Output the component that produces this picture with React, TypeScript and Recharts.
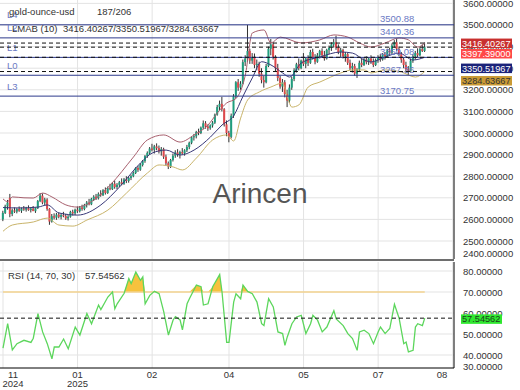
import React from 'react';
import { ComposedChart, Bar, Line, Area, XAxis, YAxis, CartesianGrid, ReferenceLine } from 'recharts';

const FONT = 'Liberation Sans, Arial, sans-serif';

// daily candles [open, high, low, close]
const novDec = [
  [2600, 2640, 2592, 2630], [2630, 2668, 2625, 2660], [2660, 2690, 2645, 2678], [2700, 2718, 2610, 2625],
  [2625, 2650, 2615, 2642], [2642, 2655, 2630, 2636], [2636, 2652, 2628, 2648], [2648, 2660, 2635, 2640],
  [2640, 2655, 2630, 2650], [2650, 2662, 2640, 2645], [2645, 2658, 2636, 2652], [2652, 2665, 2640, 2643],
  [2643, 2656, 2632, 2650], [2650, 2662, 2640, 2638], [2638, 2655, 2630, 2652], [2652, 2690, 2648, 2685],
  [2685, 2722, 2680, 2710], [2710, 2720, 2670, 2678], [2678, 2700, 2665, 2692], [2692, 2698, 2640, 2648],
  [2648, 2652, 2575, 2590], [2590, 2625, 2585, 2615], [2615, 2628, 2600, 2608], [2608, 2630, 2598, 2622],
  [2622, 2632, 2605, 2612], [2612, 2628, 2600, 2620], [2620, 2635, 2610, 2615], [2615, 2625, 2598, 2605],
  [2605, 2620, 2595, 2612], [2612, 2640, 2608, 2635],
];
const janFeb = [
  [2635, 2645, 2618, 2628], [2628, 2650, 2620, 2645], [2645, 2660, 2630, 2638], [2638, 2662, 2632, 2655],
  [2655, 2668, 2640, 2648], [2648, 2672, 2642, 2666], [2666, 2685, 2655, 2678], [2678, 2695, 2665, 2670],
  [2670, 2700, 2666, 2695], [2695, 2712, 2685, 2705], [2705, 2718, 2690, 2698], [2698, 2725, 2692, 2718],
  [2718, 2735, 2705, 2712], [2712, 2740, 2708, 2735], [2735, 2748, 2715, 2722], [2722, 2752, 2718, 2745],
  [2745, 2765, 2735, 2740], [2740, 2772, 2736, 2765], [2765, 2780, 2742, 2750], [2750, 2768, 2740, 2760],
  [2760, 2778, 2750, 2772], [2772, 2790, 2758, 2765], [2765, 2792, 2760, 2785], [2785, 2800, 2768, 2778],
  [2778, 2798, 2770, 2792], [2792, 2808, 2782, 2800], [2800, 2822, 2795, 2815], [2815, 2842, 2810, 2838],
  [2838, 2848, 2820, 2830], [2830, 2860, 2825, 2852],
];
const febMar = [
  [2852, 2875, 2845, 2870], [2870, 2898, 2862, 2893], [2893, 2915, 2885, 2908], [2908, 2935, 2900, 2928],
  [2928, 2950, 2915, 2922], [2922, 2945, 2905, 2938], [2938, 2952, 2920, 2930], [2930, 2942, 2905, 2915],
  [2915, 2935, 2895, 2925], [2925, 2932, 2880, 2890], [2890, 2900, 2850, 2860], [2860, 2868, 2833, 2845],
  [2845, 2880, 2838, 2875], [2875, 2905, 2868, 2895], [2895, 2920, 2885, 2910], [2910, 2925, 2890, 2900],
  [2900, 2918, 2882, 2912], [2912, 2930, 2900, 2905], [2905, 2925, 2895, 2920], [2920, 2945, 2912, 2935],
  [2935, 2960, 2925, 2955], [2955, 2985, 2948, 2980], [2980, 2995, 2965, 2985], [2985, 3010, 2975, 3005],
  [3005, 3020, 2990, 3000], [3000, 3030, 2995, 3025], [3025, 3058, 3018, 3045], [3045, 3055, 3020, 3030],
  [3030, 3040, 3010, 3022], [3022, 3040, 3015, 3035],
];
const aprMay = [
  [3035, 3055, 3025, 3048], [3048, 3090, 3042, 3085], [3085, 3130, 3080, 3120], [3120, 3150, 3105, 3135],
  [3135, 3167, 3100, 3110], [3110, 3115, 3030, 3040], [3040, 3058, 2985, 3000], [3000, 3010, 2957, 2982],
  [2982, 3090, 2975, 3080], [3080, 3180, 3070, 3170], [3170, 3240, 3160, 3235], [3235, 3250, 3195, 3210],
  [3210, 3240, 3200, 3228], [3228, 3340, 3225, 3328], [3328, 3360, 3310, 3345], [3345, 3500, 3330, 3380],
  [3380, 3390, 3320, 3335], [3335, 3370, 3320, 3350], [3350, 3368, 3300, 3315], [3315, 3340, 3290, 3320],
  [3320, 3330, 3260, 3275], [3275, 3300, 3230, 3245], [3245, 3265, 3210, 3235], [3235, 3320, 3230, 3310],
  [3310, 3400, 3305, 3390], [3390, 3435, 3360, 3410], [3410, 3420, 3340, 3350], [3350, 3360, 3285, 3300],
  [3300, 3320, 3240, 3255], [3255, 3265, 3205, 3215],
];
const mayJun = [
  [3215, 3250, 3190, 3235], [3235, 3245, 3165, 3180], [3180, 3200, 3120, 3150], [3150, 3225, 3140, 3210],
  [3210, 3260, 3200, 3250], [3250, 3300, 3240, 3290], [3290, 3325, 3280, 3318], [3318, 3345, 3290, 3300],
  [3300, 3340, 3295, 3335], [3335, 3370, 3310, 3320], [3320, 3350, 3300, 3345], [3345, 3360, 3310, 3325],
  [3325, 3385, 3320, 3375], [3375, 3390, 3340, 3350], [3350, 3365, 3318, 3330], [3330, 3370, 3325, 3360],
  [3360, 3385, 3345, 3380], [3380, 3392, 3350, 3360], [3360, 3380, 3335, 3345], [3345, 3390, 3340, 3385],
  [3385, 3405, 3365, 3395], [3395, 3420, 3380, 3410], [3410, 3435, 3395, 3420], [3420, 3450, 3385, 3395],
  [3395, 3410, 3365, 3375], [3375, 3395, 3350, 3385], [3385, 3390, 3345, 3355], [3355, 3375, 3330, 3365],
  [3365, 3370, 3315, 3325], [3325, 3340, 3290, 3300],
];
const junJul = [
  [3300, 3325, 3280, 3310], [3310, 3320, 3265, 3275], [3275, 3300, 3255, 3295], [3295, 3335, 3285, 3325],
  [3325, 3345, 3305, 3315], [3315, 3350, 3310, 3340], [3340, 3355, 3318, 3328], [3328, 3350, 3315, 3345],
  [3345, 3360, 3320, 3330], [3330, 3345, 3305, 3315], [3315, 3345, 3310, 3338], [3338, 3360, 3325, 3350],
  [3350, 3365, 3330, 3340], [3340, 3370, 3335, 3362], [3362, 3375, 3340, 3355], [3355, 3390, 3350, 3382],
  [3382, 3395, 3360, 3372], [3372, 3415, 3365, 3405], [3405, 3430, 3395, 3420], [3420, 3435, 3380, 3390],
  [3390, 3400, 3355, 3365], [3365, 3375, 3325, 3340], [3340, 3350, 3300, 3315], [3315, 3330, 3280, 3295],
  [3295, 3310, 3268, 3285], [3285, 3345, 3280, 3335], [3335, 3365, 3325, 3355], [3355, 3380, 3340, 3370],
  [3370, 3392, 3350, 3360], [3360, 3400, 3355, 3388], [3388, 3410, 3375, 3380], [3380, 3420, 3375, 3397.39],
];

// band points [bar index, value]
const upperBand = [
  [0, 2695], [2, 2682], [4, 2704], [9, 2700], [13, 2699], [17, 2722], [21, 2704], [27, 2667], [32, 2657],
  [39, 2690], [46, 2759], [56, 2889], [62, 2968], [69, 2991], [76, 2958], [82, 2991], [88, 3037], [92, 3093],
  [96, 3139], [100, 3160], [104, 3268], [107, 3463], [112, 3477], [115, 3417], [119, 3444], [128, 3417],
  [136, 3431], [142, 3454], [148, 3444], [153, 3417], [158, 3398], [164, 3417], [170, 3440], [174, 3431],
  [178, 3398], [181, 3416.4],
];
const middleBand = [
  [0, 2655], [7, 2653], [15, 2657], [19, 2667], [24, 2630], [32, 2620], [42, 2667], [50, 2750], [59, 2861],
  [64, 2907], [70, 2921], [76, 2898], [82, 2921], [89, 2981], [94, 3037], [99, 3080], [103, 3170], [107, 3255],
  [111, 3330], [115, 3315], [120, 3278], [123, 3259], [128, 3324], [136, 3352], [145, 3375], [150, 3370],
  [155, 3338], [158, 3329], [164, 3352], [170, 3370], [176, 3338], [181, 3350.52],
];
const lowerBand = [
  [0, 2545], [4, 2574], [13, 2588], [19, 2606], [24, 2574], [30, 2569], [36, 2597], [45, 2643], [53, 2722],
  [62, 2815], [67, 2852], [73, 2843], [77, 2829], [83, 2884], [90, 2968], [96, 2991], [99, 2963], [102, 3069],
  [105, 3153], [110, 3190], [115, 3213], [120, 3231], [122, 3167], [124, 3120], [127, 3130], [131, 3213],
  [136, 3236], [145, 3278], [150, 3292], [155, 3292], [158, 3278], [164, 3292], [171, 3282], [177, 3259],
  [181, 3284.64],
];

const rsiValues = [
  [0, 43.3], [2, 54.9], [4, 42.4], [6, 45.4], [9, 47], [12, 46], [13, 48], [15, 59.7], [17, 51], [19, 45.4],
  [21, 38.2], [22, 43.8], [24, 43.8], [26, 47.6], [28, 43], [31, 53.3], [33, 49.5], [36, 59.7], [38, 54.9],
  [41, 63.8], [42, 61.6], [45, 67.6], [47, 70], [48, 62], [49, 64.4], [52, 69.4], [54, 76.4], [55, 74],
  [57, 79.5], [59, 75.6], [60, 77.2], [61, 64.4], [63, 68.4], [65, 70.3], [67, 69.2], [69, 60.5], [71, 49.5],
  [73, 56.7], [74, 58.3], [76, 56.7], [77, 52], [79, 64.4], [80, 66.8], [83, 73.3], [85, 72.5], [86, 63.8],
  [88, 64.4], [90, 72.5], [93, 78.3], [94, 70], [96, 46], [97, 46], [99, 65.2], [100, 69.2], [102, 66.8],
  [103, 73.3], [105, 70.3], [107, 69.2], [109, 65.2], [111, 54.9], [112, 54], [114, 66.8], [116, 62.9],
  [118, 51], [120, 50.2], [121, 44.6], [122, 48.6], [124, 54.9], [126, 58.1], [128, 58.9], [130, 50.2],
  [132, 54.9], [133, 58.9], [135, 56.6], [137, 51], [139, 53.3], [142, 61.1], [143, 57.2], [146, 54],
  [148, 50.2], [150, 47.8], [152, 42.2], [153, 51], [155, 51.8], [157, 50.2], [159, 45.4], [161, 51],
  [162, 53.3], [164, 50.2], [166, 52.6], [168, 64.1], [170, 57.5], [172, 45.4], [173, 46.2], [174, 41.5],
  [176, 42.2], [177, 53.3], [178, 54.9], [180, 54], [181, 57.54562],
];

const levelNames = ['L4', 'L2', 'L1', 'L0', 'L3'];
const levelValues = [3500.88, 3440.36, 3350.08, 3267.36, 3170.75];

const bandLast = [3416.40267, 3350.51967, 3284.63667];
const lastClose = 3397.39;
const rsiLast = 57.54562;

const xTicks = [0, 32, 64, 97, 129, 161, 193];
const monthLabels = ['11', '01', '02', '04', '05', '07', '08'];
const yearLabels = ['2024', '2025', '', '', '', '', ''];
const priceTicks = [2400, 2500, 2600, 2700, 2800, 2900, 3000, 3100, 3200, 3300, 3400, 3500, 3600];
const rsiTicks = [40, 50, 60, 70, 80];
const rsiFloorTick = 30;

const candles = [...novDec, ...janFeb, ...febMar, ...aprMay, ...mayJun, ...junJul].map(([o, h, l, c], i) => ({ i, o, h, l, c }));
const toPts = (arr: number[][]) => arr.map(([i, v]) => ({ i, v }));
const rsiData = toPts(rsiValues);
const lastIdx = candles.length - 1;

const X_DOMAIN: [number, number] = [-1.29, 193.56];
const PRICE_DOMAIN: [number, number] = [2416.67, 3615.74];
const RSI_DOMAIN: [number, number] = [33.81, 84.29];

const GREEN = '#1f9e7e';
const RED = '#e0484c';
const LEVEL = '#2d3a8c';
const LEVEL_TXT = '#6c7ac4';

function Candle(props: any) {
  const { x, y, width, height } = props;
  const d = props.payload || props;
  const top = Math.min(y, y + height);
  const h = Math.abs(height);
  const k = h / Math.max(d.h - d.l, 1e-6);
  const cx = x + width / 2;
  const yo = top + (d.h - d.o) * k;
  const yc = top + (d.h - d.c) * k;
  const col = d.c >= d.o ? GREEN : RED;
  return (
    <g>
      <line x1={cx} x2={cx} y1={top} y2={top + h} stroke="#333" strokeWidth={1} />
      <rect x={cx - 1} y={Math.min(yo, yc)} width={2} height={Math.max(Math.abs(yc - yo), 1)} fill={col} />
    </g>
  );
}

function LevelLabel(props: any) {
  const vb = props.viewBox || {};
  return (
    <g fontSize={9.5} fontFamily={FONT} fill={LEVEL_TXT}>
      <text x={vb.x + 7} y={vb.y - 6.5}>{props.name}</text>
      <text x={vb.x + 380} y={vb.y - 2.5}>{props.text}</text>
    </g>
  );
}

function PriceTag(props: any) {
  const vb = props.viewBox || {};
  const left = vb.x + vb.width + 7;
  const top = vb.y + props.shift - 4.5;
  return (
    <g>
      <rect x={left} y={top} width={props.w} height={9.5} fill={props.bg} />
      <text x={left + 1} y={top + 8} fontSize={9.2} fontFamily={FONT} fill={props.fg}>{props.text}</text>
    </g>
  );
}

function PriceTick(props: any) {
  const { x, y, payload } = props;
  return (
    <text x={x} y={Math.min(y, 253)} dy={3.5} fontSize={9.5} fontFamily={FONT} fill="#333" textAnchor="start">
      {Number(payload.value).toFixed(5)}
    </text>
  );
}

function RsiTick(props: any) {
  const { x, y, payload } = props;
  return (
    <text x={x} y={y} dy={3.5} fontSize={9.5} fontFamily={FONT} fill="#333" textAnchor="start">
      {Number(payload.value).toFixed(5)}
    </text>
  );
}

function MonthTick(props: any) {
  const { x, y, payload } = props;
  const k = xTicks.indexOf(payload.value);
  const cx = Math.min(Math.max(x, 13), 442);
  return (
    <g fontSize={9.5} fontFamily={FONT} fill="#333">
      <text x={cx} y={y + 10} textAnchor="middle">{monthLabels[k]}</text>
      {yearLabels[k] ? <text x={cx} y={y + 19} textAnchor="middle">{yearLabels[k]}</text> : null}
    </g>
  );
}

const tags = [
  { v: bandLast[0], text: bandLast[0].toFixed(5), bg: '#c8302f', fg: '#fff', shift: 0 },
  { v: lastClose, text: lastClose.toFixed(5), bg: '#ff4848', fg: '#fff', shift: 6.3 },
  { v: bandLast[1], text: bandLast[1].toFixed(5), bg: '#1b237a', fg: '#fff', shift: 10.8 },
  { v: bandLast[2], text: bandLast[2].toFixed(5), bg: '#c99a35', fg: '#333', shift: 9 },
];

const abs = (left: number, top: number): React.CSSProperties => ({ position: 'absolute', left, top });

export default function App() {
  return (
    <div style={{ position: 'absolute', left: 0, top: 0, width: 520, height: 390, background: '#fff', overflow: 'hidden' }}>
      {/* price pane */}
      <div style={abs(0, 0)}>
        <ComposedChart width={520} height={259} data={candles} margin={{ top: 0, right: 0, bottom: 0, left: 0 }}>
          <CartesianGrid stroke="#e3e3e3" horizontalValues={priceTicks.slice(1)} verticalValues={xTicks} />
          <XAxis type="number" dataKey="i" domain={X_DOMAIN} allowDataOverflow ticks={xTicks} hide />
          <YAxis
            orientation="right"
            width={66}
            domain={PRICE_DOMAIN}
            allowDataOverflow
            ticks={priceTicks}
            interval={0}
            tick={<PriceTick />}
            tickLine={false}
            tickSize={0}
            tickMargin={9}
            axisLine={{ stroke: '#000' }}
          />
          <Bar dataKey={(d: any) => [d.l, d.h]} shape={<Candle />} barSize={2} isAnimationActive={false} />
          <Line data={toPts(upperBand)} dataKey="v" type="monotone" stroke="#a8606e" strokeWidth={1} dot={false} activeDot={false} isAnimationActive={false} />
          <Line data={toPts(middleBand)} dataKey="v" type="monotone" stroke="#383878" strokeWidth={1} dot={false} activeDot={false} isAnimationActive={false} />
          <Line data={toPts(lowerBand)} dataKey="v" type="monotone" stroke="#c9b46a" strokeWidth={1} dot={false} activeDot={false} isAnimationActive={false} />
        </ComposedChart>
      </div>
      {/* levels and price tags drawn above the axis labels */}
      <div style={abs(0, 0)}>
        <ComposedChart width={520} height={259} data={candles} margin={{ top: 0, right: 66, bottom: 0, left: 0 }}>
          <XAxis type="number" dataKey="i" domain={X_DOMAIN} allowDataOverflow hide />
          <YAxis domain={PRICE_DOMAIN} allowDataOverflow hide />
          {levelValues.map((v, k) => (
            <ReferenceLine key={'lv' + k} y={v} stroke={LEVEL} strokeWidth={1} label={<LevelLabel name={levelNames[k]} text={v.toFixed(2)} />} />
          ))}
          {tags.map((t, k) => (
            <ReferenceLine
              key={'tg' + k}
              y={t.v}
              stroke="#111"
              strokeDasharray="4 3"
              label={<PriceTag text={t.text} bg={t.bg} fg={t.fg} shift={t.shift} w={51} />}
            />
          ))}
        </ComposedChart>
      </div>
      <div style={{ position: 'absolute', left: 0, top: 259, width: 454, height: 2, background: '#6e6e6e' }} />
      {/* RSI pane */}
      <div style={abs(0, 259)}>
        <ComposedChart width={520} height={131} data={rsiData} margin={{ top: 3, right: 0, bottom: 0, left: 0 }}>
          <CartesianGrid stroke="#e3e3e3" horizontalValues={rsiTicks} verticalValues={xTicks} />
          <XAxis
            type="number"
            dataKey="i"
            domain={X_DOMAIN}
            allowDataOverflow
            ticks={xTicks}
            interval={0}
            height={22}
            tick={<MonthTick />}
            tickLine={false}
            tickSize={0}
            tickMargin={0}
            axisLine={{ stroke: '#000' }}
          />
          <YAxis
            orientation="right"
            width={66}
            domain={RSI_DOMAIN}
            allowDataOverflow
            ticks={rsiTicks}
            interval={0}
            tick={<RsiTick />}
            tickLine={false}
            tickSize={0}
            tickMargin={9}
            axisLine={{ stroke: '#000' }}
          />
          <ReferenceLine segment={[{ x: 0, y: 70 }, { x: lastIdx, y: 70 }]} stroke="#f3d38f" strokeWidth={1.5} />
          <Area dataKey={(d: any) => Math.max(d.v, 70)} baseValue={70} type="linear" stroke="none" fill="#f6c23e" fillOpacity={1} activeDot={false} isAnimationActive={false} />
          <Line dataKey="v" type="linear" stroke="#5cd65c" strokeWidth={1.3} dot={false} activeDot={false} isAnimationActive={false} />
        </ComposedChart>
      </div>
      <div style={abs(0, 259)}>
        <ComposedChart width={520} height={131} data={rsiData} margin={{ top: 3, right: 66, bottom: 22, left: 0 }}>
          <XAxis type="number" dataKey="i" domain={X_DOMAIN} allowDataOverflow hide />
          <YAxis domain={RSI_DOMAIN} allowDataOverflow hide />
          <ReferenceLine
            y={rsiLast}
            stroke="#111"
            strokeDasharray="4 3"
            label={<PriceTag text={rsiLast.toFixed(5)} bg="#30e830" fg="#1d3d1d" shift={0.7} w={41} />}
          />
        </ComposedChart>
      </div>
      <svg width={520} height={390} style={{ position: 'absolute', left: 0, top: 0, pointerEvents: 'none' }} fontFamily={FONT}>
        <text x={9} y={14.5} fontSize={9.5} fill="#333">gold-ounce-usd</text>
        <text x={97} y={14.5} fontSize={9.5} fill="#333">187/206</text>
        <text x={12} y={32} fontSize={9.5} fill="#333">LMAB (10)</text>
        <text x={63} y={32} fontSize={9.5} fill="#333">{bandLast.map((v) => v.toFixed(5)).join('/')}</text>
        <text x={260} y={203} fontSize={28} fill="#555" textAnchor="middle">Arincen</text>
        <text x={8} y={278.5} fontSize={9.5} fill="#333">RSI (14, 70, 30)</text>
        <text x={85} y={278.5} fontSize={9.5} fill="#333">{rsiLast.toFixed(5)}</text>
        {/* lowest RSI axis value, pinned at the pane floor as in the source */}
        <text x={463} y={370} fontSize={9.5} fill="#333">{rsiFloorTick.toFixed(5)}</text>
      </svg>
    </div>
  );
}
